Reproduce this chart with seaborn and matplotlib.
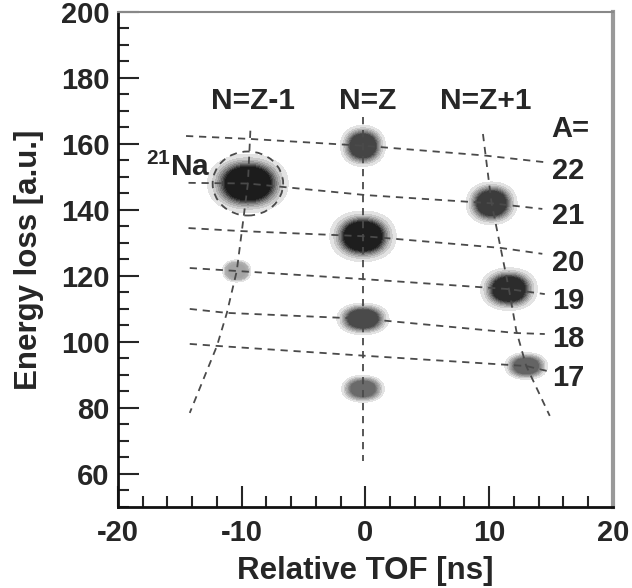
import matplotlib
matplotlib.use("Agg")
import matplotlib.pyplot as plt
from matplotlib.colors import LinearSegmentedColormap
from matplotlib.patches import Ellipse
from matplotlib.ticker import MultipleLocator
import seaborn as sns
import pandas as pd

# cluster centres (relative TOF in ns, energy loss in a.u.)
cluster_names = ["21Na", "Z-1_A19", "Z_A22", "Z_A20", "Z_A18", "Z_A16", "Z+1_A21", "Z+1_A19", "Z+1_A17"]
cluster_tof = [-9.5, -10.4, -0.2, -0.2, -0.2, -0.2, 10.2, 11.6, 13.0]
cluster_eloss = [148.0, 121.5, 159.4, 132.0, 107.0, 85.8, 142.0, 116.0, 92.7]
# spread of each blob
cluster_tof_spread = [0.68, 0.24, 0.38, 0.56, 0.44, 0.36, 0.43, 0.48, 0.36]
cluster_eloss_spread = [1.85, 0.7, 1.3, 1.6, 1.0, 0.85, 1.35, 1.35, 0.85]
# how dark the core of each blob looks
cluster_shade = ["#1c1c1c", "#a4a4a4", "#454545", "#1e1e1e", "#4a4a4a", "#6a6a6a", "#3c3c3c", "#2c2c2c", "#646464"]

# dashed guide lines (isobars A=22..17)
iso_labels = ["22", "21", "20", "19", "18", "17"]
iso_tof = [
    [-14.5, -9.3, 0, 9.6, 14.4],
    [-14.3, -9.5, 0, 10.2, 14.3],
    [-14.3, -10.1, 0, 10.9, 14.3],
    [-14.2, -10.4, 0, 11.6, 14.5],
    [-14.2, -11.2, 0, 12.2, 14.5],
    [-14.2, -12.0, 0, 13.0, 14.7],
]
iso_eloss = [
    [162.4, 161.5, 159.4, 156.5, 154.5],
    [148.2, 148.0, 144.5, 142.0, 140.3],
    [134.5, 133.6, 132.0, 128.5, 126.7],
    [122.4, 121.5, 119.0, 116.0, 114.5],
    [110.0, 108.8, 107.0, 102.7, 102.4],
    [99.4, 98.8, 95.8, 92.7, 91.2],
]
iso_label_eloss = [151.8, 138.2, 124.0, 112.4, 100.9, 89.0]

# dashed guide lines (N=Z-1, N=Z, N=Z+1)
col_labels = ["N=Z-1", "N=Z", "N=Z+1"]
col_label_tof = [-9.1, 0.2, 9.7]
col_tof = [
    [-9.3, -9.5, -10.4, -11.2, -12.0, -14.2],
    [-0.2, -0.2, -0.2],
    [9.5, 10.2, 11.6, 12.2, 13.0, 14.9],
]
col_eloss = [
    [164.0, 148.0, 121.5, 108.8, 98.8, 78.5],
    [168.0, 132.0, 64.0],
    [163.0, 142.0, 116.0, 103.3, 92.7, 77.6],
]

# blobs as kde over the corners of each cluster's spread box
rows = []
for name, x, y, sx, sy in zip(cluster_names, cluster_tof, cluster_eloss,
                              cluster_tof_spread, cluster_eloss_spread):
    for dx, dy in [(-1, -1), (-1, 1), (1, -1), (1, 1)]:
        rows.append({"cluster": name, "tof": x + dx * sx, "eloss": y + dy * sy})
df = pd.DataFrame(rows)

sns.set_style("ticks")
plt.rcParams["font.family"] = ["Liberation Sans", "DejaVu Sans"]
plt.rcParams["font.weight"] = "bold"
plt.rcParams["axes.unicode_minus"] = False
plt.rcParams["mathtext.fontset"] = "custom"
plt.rcParams["mathtext.rm"] = "Liberation Sans:bold"
plt.rcParams["mathtext.bf"] = "Liberation Sans:bold"

fig = plt.figure(figsize=(6.32, 5.88), dpi=100)
ax = fig.add_axes([0.1867, 0.1378, 0.783, 0.842])

for name, shade in zip(cluster_names, cluster_shade):
    cmap = LinearSegmentedColormap.from_list(
        name, [(0, "#f0f0f0"), (0.12, "#b0b0b0"), (0.38, shade), (1, shade)])
    sns.kdeplot(data=df[df["cluster"] == name], x="tof", y="eloss", fill=True,
                cmap=cmap, levels=24, thresh=0.03, bw_adjust=1.75, ax=ax)

line_kw = dict(color="#4a4a4a", linewidth=1.3, linestyle=(0, (4, 3.2)),
               sort=False, estimator=None, legend=False, ax=ax)
for xs, ys in zip(iso_tof, iso_eloss):
    sns.lineplot(x=xs, y=ys, **line_kw)
for xs, ys in zip(col_tof, col_eloss):
    sns.lineplot(x=xs, y=ys, **line_kw)

ring = Ellipse((cluster_tof[0], cluster_eloss[0]), width=5.7, height=19.4,
               fill=False, edgecolor="#4a4a4a", linewidth=1.3, linestyle=(0, (4, 3.2)))
ax.add_patch(ring)

for lab, x in zip(col_labels, col_label_tof):
    ax.text(x, 173, lab, ha="center", va="center", fontsize=21.5, fontweight="bold")
ax.text(15.0, 164.5, "A=", ha="left", va="center", fontsize=21, fontweight="bold")
for lab, y in zip(iso_labels, iso_label_eloss):
    ax.text(15.1, y, lab, ha="left", va="center", fontsize=21, fontweight="bold")
ax.text(-12.5, 153, r"$^{21}$Na", ha="right", va="center", fontsize=21.5, fontweight="bold")

ax.set_xlim(-20, 20)
ax.set_ylim(50, 200)
ax.xaxis.set_major_locator(MultipleLocator(10))
ax.xaxis.set_minor_locator(MultipleLocator(2))
ax.yaxis.set_major_locator(MultipleLocator(20))
ax.yaxis.set_minor_locator(MultipleLocator(5))
ax.set_yticks([60, 80, 100, 120, 140, 160, 180, 200])
ax.tick_params(which="both", direction="in", width=1.5, top=False, right=False)
ax.tick_params(which="major", length=15, labelsize=21)
ax.tick_params(which="minor", length=8)
ax.tick_params(axis="x", pad=9)
ax.tick_params(axis="y", pad=6)
for lab in ax.get_xticklabels() + ax.get_yticklabels():
    lab.set_fontweight("bold")

ax.set_xlabel("Relative TOF [ns]", fontsize=22.5, fontweight="bold", labelpad=6)
ax.set_ylabel("Energy loss [a.u.]", fontsize=22.5, fontweight="bold", labelpad=12)

ax.spines["left"].set_linewidth(2)
ax.spines["bottom"].set_linewidth(2)
ax.spines["left"].set_color("#111111")
ax.spines["bottom"].set_color("#111111")
ax.spines["top"].set_color("#888888")
ax.spines["top"].set_linewidth(1.5)
ax.spines["right"].set_color("#999999")
ax.spines["right"].set_linewidth(3)

fig.savefig("out.png", dpi=100)
